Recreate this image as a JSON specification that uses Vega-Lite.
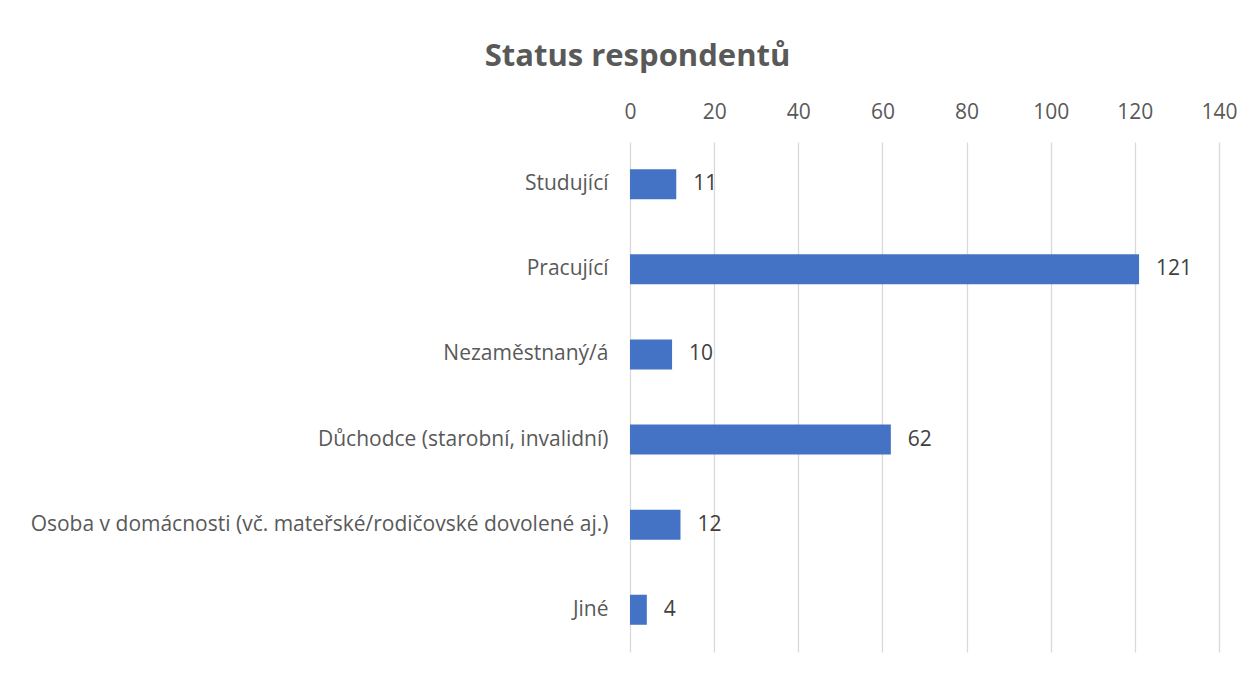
{
  "$schema": "https://vega.github.io/schema/vega-lite/v6.json",
  "autosize": {"type": "none"},
  "width": 589,
  "height": 510,
  "padding": {"left": 630, "top": 142, "right": 34, "bottom": 21},
  "background": "white",
  "config": {
    "font": "Open Sans",
    "view": {"stroke": null}
  },
  "title": {
    "text": "Status respondentů",
    "font": "Open Sans",
    "fontSize": 31,
    "fontWeight": "bold",
    "color": "#595959",
    "anchor": "middle",
    "frame": "group",
    "dx": -287,
    "offset": 28
  },
  "data": {
    "values": [
      {"status": "Studující", "pocet": 11},
      {"status": "Pracující", "pocet": 121},
      {"status": "Nezaměstnaný/á", "pocet": 10},
      {"status": "Důchodce (starobní, invalidní)", "pocet": 62},
      {"status": "Osoba v domácnosti (vč. mateřské/rodičovské dovolené aj.)", "pocet": 12},
      {"status": "Jiné", "pocet": 4}
    ]
  },
  "encoding": {
    "y": {
      "field": "status",
      "type": "nominal",
      "sort": null,
      "scale": {"paddingInner": 0.647, "paddingOuter": 0.32},
      "axis": {
        "title": null,
        "ticks": false,
        "domain": false,
        "labelPadding": 22,
        "labelFontSize": 21,
        "labelColor": "#595959",
        "labelFont": "Open Sans",
        "labelLimit": 700
      }
    },
    "x": {
      "field": "pocet",
      "type": "quantitative",
      "scale": {"domain": [0, 140], "nice": false},
      "axis": {
        "orient": "top",
        "title": null,
        "values": [0, 20, 40, 60, 80, 100, 120, 140],
        "ticks": false,
        "domain": false,
        "labelFlush": false,
        "labelPadding": 20,
        "labelFontSize": 21,
        "labelColor": "#595959",
        "labelFont": "Open Sans",
        "grid": true,
        "gridColor": "#d9d9d9",
        "gridWidth": 1.3
      }
    }
  },
  "layer": [
    {"mark": {"type": "bar", "color": "#4472C4"}},
    {
      "mark": {"type": "text", "align": "left", "baseline": "middle", "dx": 17, "fontSize": 21, "color": "#404040", "font": "Open Sans"},
      "encoding": {"text": {"field": "pocet", "type": "quantitative"}}
    }
  ]
}
